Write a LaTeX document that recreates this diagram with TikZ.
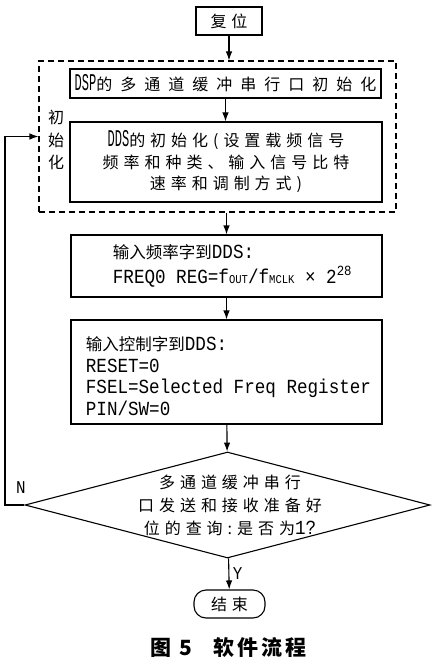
\documentclass[tikz,border=0pt]{standalone}
\usepackage{fontspec}
\setmainfont{Noto Sans CJK SC}
\newfontfamily\cjk{Noto Sans CJK SC}
\newfontfamily\cjkwide[LetterSpace=31]{Noto Sans CJK SC}
\newfontfamily\latw[FakeStretch=0.88]{Liberation Mono}
\newfontfamily\latn[FakeStretch=0.5]{Liberation Mono}
\usetikzlibrary{arrows,arrows.meta,calc,shapes}
\newcommand{\lw}[1]{{\fontsize{20}{20}\latw #1}}
\newcommand{\lnar}[1]{{\fontsize{24}{20}\latn #1}}
\newcommand{\subsc}[1]{{\fontsize{12}{12}\selectfont #1}}

\begin{document}
\begin{tikzpicture}[x=1pt,y=-1pt,line width=1.1pt,
    box/.style={draw,rectangle,inner sep=0pt},
    flow/.style={-{Latex[length=9pt,width=6.5pt]}}]
    \useasboundingbox (0,0) rectangle (439,671);
    \node[box,minimum width=66,minimum height=28](reset) at (229,21) {\fontsize{16}{20}\cjkwide 复位};
    \node[box,dash pattern=on 6pt off 4pt,minimum width=357,minimum height=151](init) at (217.5,136.5) {};
    \node[align=center,font=\fontsize{16}{22.5}\selectfont](initlbl) at (56,140) {初\\始\\化};
    \node[box,minimum width=311,minimum height=29](dsp) at (225.5,83.5)
        {\fontsize{16}{20}\selectfont\lnar{DSP}\addfontfeatures{LetterSpace=50}的多通道缓冲串行口初始化};
    \node[box,minimum width=312,minimum height=80,align=center,font=\fontsize{16}{21.5}\selectfont](dds) at (226,162)
        {\lnar{DDS}\cjkwide 的初始化(设置载频信号\\ \cjkwide 频率和种类、输入信号比特\\ \cjkwide 速率和调制方式)};
    \node[box,minimum width=311,minimum height=62](freq) at (226.5,266) {};
    \node[anchor=west,align=left,font=\fontsize{20}{25}\latw](freqtxt) at (109,265.5)
        {{\fontsize{16.5}{25}\cjk 输入频率字到}DDS:\\ FREQ0 REG=f\subsc{OUT}/f\subsc{MCLK} × 2\textsuperscript{28}};
    \node[box,minimum width=311,minimum height=104](ctrl) at (226.5,372) {};
    \node[anchor=west,align=left,font=\fontsize{20}{21.5}\latw](ctrltxt) at (82,376)
        {{\fontsize{16.5}{21.5}\cjk 输入控制字到}DDS:\\ RESET=0\\ FSEL=Selected Freq Register\\ PIN/SW=0};
    \node[diamond,draw,minimum width=405,minimum height=106,inner sep=0pt](query) at (227.5,505) {};
    \node[align=center,font=\fontsize{16}{23}\selectfont](querytxt) at (230,505)
        {\cjkwide 多通道缓冲串行\\ \cjkwide 口发送和接收准备好\\ \cjkwide 位的查询:是否为\lw{1?}};
    \node[box,rounded corners=12pt,minimum width=71,minimum height=28](stop) at (229.5,604) {\fontsize{16}{20}\cjkwide 结束};
    \node[font=\fontsize{21}{24}\bfseries](caption) at (228.5,648) {\addfontfeatures{LetterSpace=14}图 5\quad 软件流程};
    \coordinate (fb) at (5,0);
    \path[flow]
      (reset) edge (reset |- init.north)
      (dsp) edge (dsp |- dds.north)
      (init.south -| freq) edge (freq)
      (freq) edge (ctrl)
      (ctrl) edge (query)
      (query) edge node[right,font=\fontsize{18}{18}\latw]{Y} (stop)
      ;
    \draw[flow] (query.west) -- (query.west -| fb) |- (init.west);
    \node[font=\fontsize{18}{18}\latw](no) at (21,488) {N};
\end{tikzpicture}
\end{document}
